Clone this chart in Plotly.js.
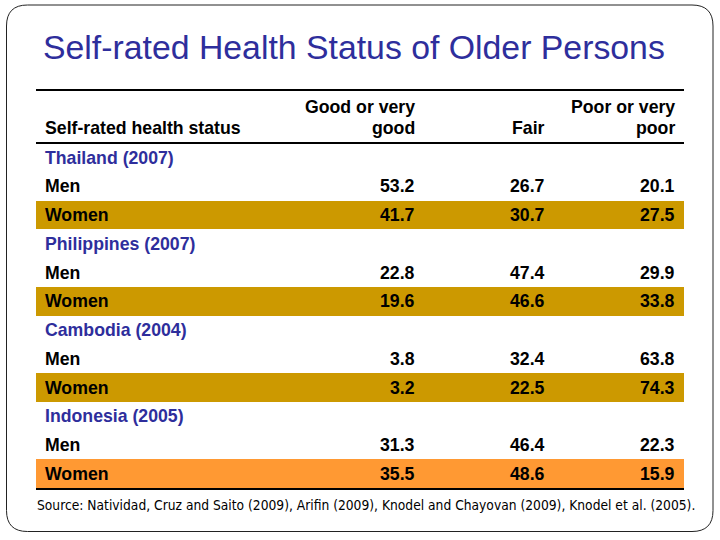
<!DOCTYPE html>
<html>
<head>
<meta charset="utf-8">
<script src="https://cdn.plot.ly/plotly-3.0.1.min.js"></script>
<style>html,body{margin:0;padding:0;background:#fff;}#chart{width:720px;height:540px;}</style>
</head>
<body>
<div id="chart"></div>
<script>
// ---- data ----
const titleText = "Self-rated Health Status of Older Persons";
const rowHeader = "Self-rated health status";
const columns = ["Good or very<br>good", "Fair", "Poor or very<br>poor"];
const countries = ["Thailand (2007)", "Philippines (2007)", "Cambodia (2004)", "Indonesia (2005)"];
const sexes = ["Men", "Women"];
const goodValues = [53.2, 41.7, 22.8, 19.6, 3.8, 3.2, 31.3, 35.5];
const fairValues = [26.7, 30.7, 47.4, 46.6, 32.4, 22.5, 46.4, 48.6];
const poorValues = [20.1, 27.5, 29.9, 33.8, 63.8, 74.3, 22.3, 15.9];
const sourceText = "Source: Natividad, Cruz and Saito (2009), Arifin (2009), Knodel and Chayovan (2009), Knodel et al. (2005).";

// ---- layout helpers (pixel geometry) ----
const ROW0 = 157.5, ROWH = 28.76;
const toV = py => (py - ROW0) / ROWH;
const W = 720, H = 540;
const tableLeft = 36, tableRight = 684, labelX = 43;
const colRight = [417, 547, 677];
const blue = "#2E2E9C";
const bandColors = ["#CC9900", "#CC9900", "#CC9900", "#FF9933"];
const boldFont = {family: "Liberation Sans, Arial, sans-serif", size: 17.7, color: "#000"};

const annotations = [];
const bandY = [], bandC = [];
const valueCols = [goodValues, fairValues, poorValues];

countries.forEach((c, ci) => {
  const base = ci * 3;
  annotations.push({x: labelX, y: base, xref: "x", yref: "y", text: "<b>" + c + "</b>",
    showarrow: false, xanchor: "left", yanchor: "middle", font: Object.assign({}, boldFont, {color: blue})});
  sexes.forEach((s, si) => {
    const row = base + 1 + si;
    const k = ci * 2 + si;
    annotations.push({x: labelX, y: row, xref: "x", yref: "y", text: "<b>" + s + "</b>",
      showarrow: false, xanchor: "left", yanchor: "middle", font: boldFont});
    valueCols.forEach((vals, j) => {
      annotations.push({x: colRight[j], y: row, xref: "x", yref: "y", text: "<b>" + vals[k].toFixed(1) + "</b>",
        showarrow: false, xanchor: "right", yanchor: "middle", font: boldFont});
    });
    if (s === "Women") { bandY.push(row); bandC.push(bandColors[ci]); }
  });
});

// header
annotations.push({x: labelX, y: toV(128), xref: "x", yref: "y", text: "<b>" + rowHeader + "</b>",
  showarrow: false, xanchor: "left", yanchor: "middle", font: boldFont});
columns.forEach((col, j) => {
  const lines = col.split("<br>");
  const ys = lines.length === 2 ? [107, 128] : [128];
  lines.forEach((ln, li) => {
    annotations.push({x: colRight[j], y: toV(ys[li]), xref: "x", yref: "y", text: "<b>" + ln + "</b>",
      showarrow: false, xanchor: "right", yanchor: "middle", font: boldFont});
  });
});

// title & source
annotations.push({x: 41, y: 1 - 47 / H, xref: "x", yref: "paper", text: titleText, showarrow: false,
  xanchor: "left", yanchor: "middle", font: {family: "Liberation Sans, Arial, sans-serif", size: 33.8, color: blue}});
annotations.push({x: 35, y: 1 - 505 / H, xref: "x", yref: "paper", text: sourceText, showarrow: false,
  xanchor: "left", yanchor: "middle", font: {family: "DejaVu Sans Condensed, DejaVu Sans, sans-serif", size: 13.7, color: "#000"}});

const shapes = [];
[90, 143, 489].forEach(py => {
  shapes.push({type: "line", xref: "x", yref: "y", x0: tableLeft, x1: tableRight, y0: toV(py), y1: toV(py),
    line: {color: "#000", width: 2.2}});
});
// rounded slide border
const L = 6.5, T = 5, R = 713, B = 531.5, r = 21;
const py = v => 1 - v / H;
shapes.push({type: "path", xref: "x", yref: "paper", layer: "above",
  path: `M ${L + r} ${py(T)} L ${R - r} ${py(T)} Q ${R} ${py(T)} ${R} ${py(T + r)} L ${R} ${py(B - r)} Q ${R} ${py(B)} ${R - r} ${py(B)} L ${L + r} ${py(B)} Q ${L} ${py(B)} ${L} ${py(B - r)} L ${L} ${py(T + r)} Q ${L} ${py(T)} ${L + r} ${py(T)} Z`,
  line: {color: "#222", width: 1}});

const traces = [{
  type: "bar", orientation: "h", y: bandY, x: bandY.map(() => tableRight - tableLeft), base: tableLeft,
  width: 1, marker: {color: bandC, line: {width: 0}}, hoverinfo: "skip", showlegend: false
}];

const layout = {
  width: W, height: H, margin: {l: 0, r: 0, t: 0, b: 0},
  paper_bgcolor: "#fff", plot_bgcolor: "#fff", showlegend: false,
  xaxis: {range: [0, W], visible: false, fixedrange: true},
  yaxis: {range: [toV(H), toV(0)], visible: false, fixedrange: true},
  annotations: annotations, shapes: shapes, bargap: 0
};
Plotly.newPlot("chart", traces, layout, {staticPlot: true, displayModeBar: false});
</script>
</body>
</html>
